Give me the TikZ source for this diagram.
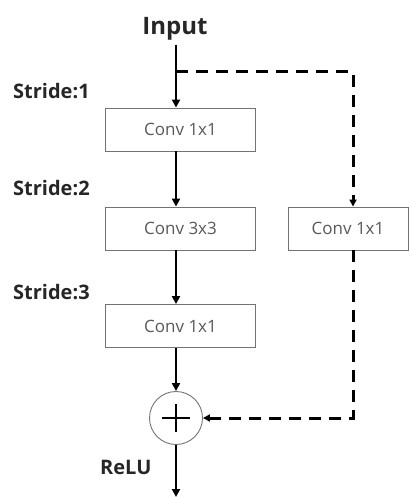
\documentclass[tikz,border=0pt]{standalone}
\usepackage{fontspec}
\setmainfont{Open Sans}
\usetikzlibrary{arrows.meta}
\begin{document}
\begin{tikzpicture}[x=1pt,y=-1pt,
  convbox/.style={draw=black!55, line width=0.9pt, fill=white, minimum width=150pt, minimum height=43pt, inner sep=0pt, text=black!65, font=\fontsize{17}{19}\selectfont},
  lbl/.style={font=\bfseries\fontsize{20}{22}\selectfont, text=black!85, inner sep=0pt},
  flow/.style={line width=2.6pt, -{Triangle[length=8pt,width=8pt]}},
  skip/.style={line width=3pt, dash pattern=on 12pt off 8pt, -{Triangle[length=7pt,width=7pt]}}]
\useasboundingbox (0,0) rectangle (409,497);
\node[lbl, font=\bfseries\fontsize{24}{26}\selectfont] (in) at (175,29) {Input};
\node[convbox] (c1) at (180.5,129.5) {Conv 1x1};
\node[convbox] (c2) at (180.5,228.5) {Conv 3x3};
\node[convbox] (c3) at (180.5,326) {Conv 1x1};
\node[convbox, minimum width=120pt] (r1) at (348,228.5) {Conv 1x1};
\node[draw=black!55, line width=0.9pt, circle, minimum size=53pt, inner sep=0pt] (sum) at (176,418) {};
\draw[line width=2pt] ([xshift=-14pt]sum.center) -- ([xshift=14pt]sum.center) ([yshift=-14pt]sum.center) -- ([yshift=14pt]sum.center);
\node[lbl, anchor=west] (s1) at (13,91) {Stride:1};
\node[lbl, anchor=west] (s2) at (13,188) {Stride:2};
\node[lbl, anchor=west] (s3) at (13,292) {Stride:3};
\node[lbl, anchor=west] (relu) at (100,467) {ReLU};
\coordinate (split) at (176,72);
\coordinate (corner1) at (353,72);
\coordinate (corner2) at (353,418);
\coordinate (out) at (176,497);
\draw[flow] (176,45) -- (c1.north -| 176,0);
\draw[flow] (c1.south -| 176,0) -- (c2.north -| 176,0);
\draw[flow] (c2.south -| 176,0) -- (c3.north -| 176,0);
\draw[flow] (c3.south -| 176,0) -- (sum.north);
\draw[flow] (sum.south) -- (out);
\draw[skip] (split) -- (corner1) -- (r1.north -| corner1);
\draw[skip] (r1.south -| corner1) -- (corner2) -- (sum.east);
\end{tikzpicture}
\end{document}
